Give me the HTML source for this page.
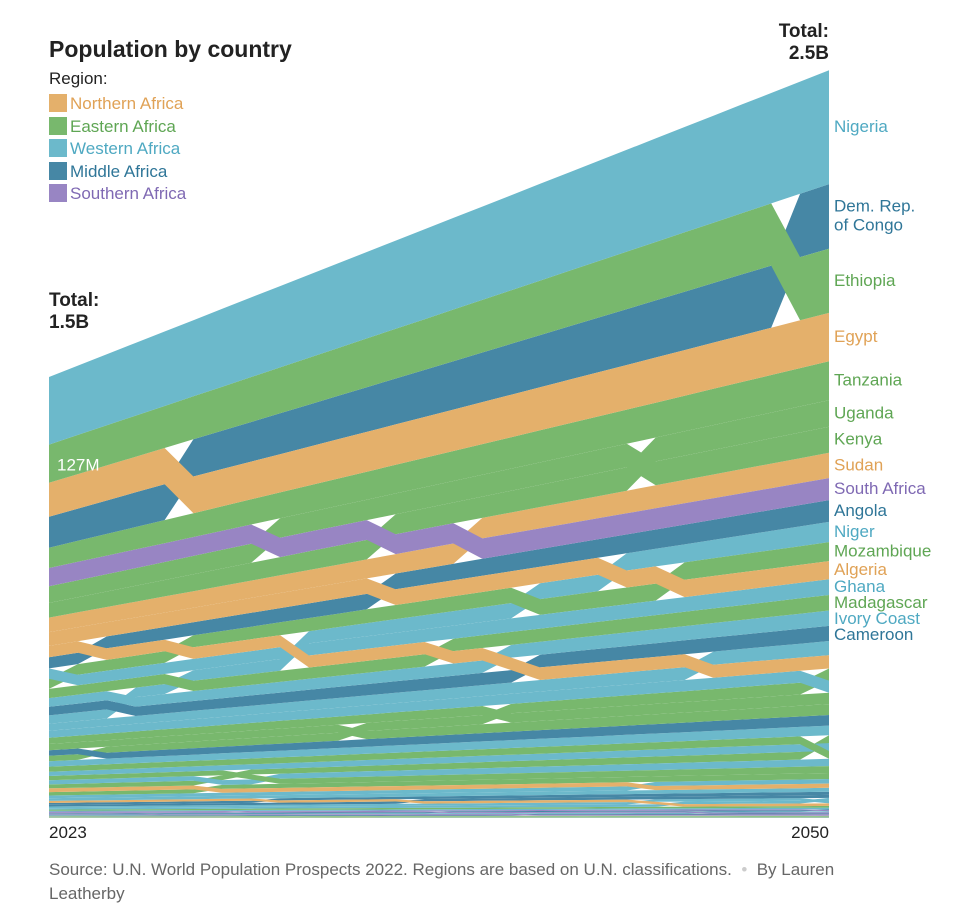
<!DOCTYPE html>
<html><head><meta charset="utf-8">
<style>
body{margin:0;background:#fff;font-family:"Liberation Sans",sans-serif;}
#wrap{position:relative;width:968px;height:912px;overflow:hidden;}
.t{position:absolute;white-space:nowrap;}
</style></head>
<body>
<div id="wrap">
<svg id="chart" width="968" height="912" style="position:absolute;left:0;top:0"></svg>
<div class="t" style="left:49px;top:36px;font-size:23px;font-weight:bold;color:#222">Population by country</div>
<div class="t" style="left:49px;top:69px;font-size:17px;color:#222">Region:</div>
<div>
<div class="t" style="left:49px;top:94px;font-size:17px;color:#e0a256"><span style="display:inline-block;width:18px;height:18px;background:#e4b06b;vertical-align:-3px;margin-right:3px"></span>Northern Africa</div>
<div class="t" style="left:49px;top:117px;font-size:17px;color:#5fa654"><span style="display:inline-block;width:18px;height:18px;background:#78b86d;vertical-align:-3px;margin-right:3px"></span>Eastern Africa</div>
<div class="t" style="left:49px;top:139px;font-size:17px;color:#4fa9c2"><span style="display:inline-block;width:18px;height:18px;background:#6cb9cb;vertical-align:-3px;margin-right:3px"></span>Western Africa</div>
<div class="t" style="left:49px;top:162px;font-size:17px;color:#2f7698"><span style="display:inline-block;width:18px;height:18px;background:#4687a5;vertical-align:-3px;margin-right:3px"></span>Middle Africa</div>
<div class="t" style="left:49px;top:184px;font-size:17px;color:#7f69b3"><span style="display:inline-block;width:18px;height:18px;background:#9885c3;vertical-align:-3px;margin-right:3px"></span>Southern Africa</div>
</div>
<div class="t" style="left:49px;top:290px;font-size:19px;font-weight:bold;color:#222;line-height:22px">Total:<br>1.5B</div>
<div class="t" style="right:139px;top:21px;font-size:19px;font-weight:bold;color:#222;line-height:22px;text-align:right">Total:<br>2.5B</div>
<div class="t" style="left:49px;top:823px;font-size:17px;color:#222">2023</div>
<div class="t" style="right:139px;top:823px;font-size:17px;color:#222">2050</div>
<div class="t" style="left:49px;top:858px;font-size:17px;color:#666;line-height:24px;white-space:normal;width:858px">Source: U.N. World Population Prospects 2022. Regions are based on U.N. classifications. &nbsp;<span style="color:#ccc">•</span>&nbsp; By Lauren Leatherby</div>
</div>
<script>
const countries=["Nigeria","Ethiopia","Egypt","Dem. Rep. of Congo","Tanzania","South Africa","Kenya","Uganda","Sudan","Algeria","Morocco","Angola","Ghana","Mozambique","Madagascar","Ivory Coast","Cameroon","Niger","Burkina Faso","Mali","Malawi","Zambia","Chad","Somalia","Senegal","Zimbabwe","Guinea","Rwanda","Benin","Burundi","Tunisia","South Sudan","Togo","Sierra Leone","Libya","Congo","CAR","Liberia","Mauritania","Eritrea","Gambia","Botswana","Namibia","Gabon","Lesotho","Guinea-Bissau","Eq. Guinea","Mauritius","Eswatini","Djibouti","Reunion","Comoros","Cabo Verde","W. Sahara","Mayotte","Sao Tome","Seychelles"];
const regions=["W","E","N","M","E","S","E","E","N","N","N","M","W","E","E","W","M","W","W","W","E","E","M","E","W","E","W","E","W","E","N","E","W","W","N","M","M","W","W","E","W","S","S","M","S","W","M","E","S","E","E","E","W","N","E","M","E"];
const pop2023=[223.8,126.5,112.7,102.3,67.4,60.4,55.1,48.6,48.1,45.6,37.8,36.7,34.1,33.9,30.3,28.9,28.6,27.2,23.3,23.3,20.9,20.6,18.3,18.1,17.8,16.7,14.2,14.1,13.7,13.2,12.5,11.1,9.1,8.8,6.9,6.1,5.7,5.4,4.9,3.7,2.8,2.7,2.6,2.4,2.3,2.2,1.7,1.3,1.2,1.1,0.98,0.85,0.6,0.59,0.33,0.23,0.1];
const pop2050=[377,212.5,160,214,129,73,86,88,84,60,44,72,52,63,51.5,51,50,67,40,47,38,36,35,40,32,26,26,23,24,26,14,20,15,13,8.5,10.5,10,9,9,5.6,4.8,3.4,3.7,3.7,2.8,3.5,3.2,1.2,1.5,1.5,1.1,1.4,0.7,0.8,0.6,0.37,0.13];
const labeled=["Nigeria","Dem. Rep. of Congo","Ethiopia","Egypt","Tanzania","Uganda","Kenya","Sudan","South Africa","Angola","Niger","Mozambique","Algeria","Ghana","Madagascar","Ivory Coast","Cameroon"];

const fill={N:"#e4b06b",E:"#78b86d",W:"#6cb9cb",M:"#4687a5",S:"#9885c3"};
const txt={N:"#e0a256",E:"#5fa654",W:"#4fa9c2",M:"#2f7698",S:"#7f69b3"};
const X0=49,X1=829,BASE=818,K=0.302;
const xScale=y=>X0+(y-2023)/27*(X1-X0);
const yScale=v=>BASE-v*K;
const svg=document.getElementById('chart');
const NS="http://www.w3.org/2000/svg";
const n=countries.length;
const tops=countries.map(()=>[]),bots=countries.map(()=>[]);
for(let yr=2023;yr<=2050;yr++){
  const t=(yr-2023)/27;
  const vals=countries.map((c,i)=>pop2023[i]+(pop2050[i]-pop2023[i])*t);
  const order=vals.map((v,i)=>i).sort((a,b)=>vals[a]-vals[b]);
  let cum=0;
  order.forEach(i=>{bots[i].push([xScale(yr),yScale(cum)]);cum+=vals[i];tops[i].push([xScale(yr),yScale(cum)]);});
}
for(let i=n-1;i>=0;i--){
  const p=document.createElementNS(NS,'path');
  let d="M"+tops[i].map(q=>q[0].toFixed(1)+","+q[1].toFixed(1)).join("L");
  d+="L"+bots[i].slice().reverse().map(q=>q[0].toFixed(1)+","+q[1].toFixed(1)).join("L")+"Z";
  p.setAttribute('d',d);p.setAttribute('fill',fill[regions[i]]);
  
  
  svg.appendChild(p);
}
const items=labeled.map(c=>{const i=countries.indexOf(c);const m=(tops[i][27][1]+bots[i][27][1])/2;return {c,i,m};}).sort((a,b)=>a.m-b.m);
let last=-1e9;
items.forEach(it=>{
  const two=it.c==="Dem. Rep. of Congo";
  let y=it.m; if(two) y-=10;
  if(y<last+16) y=last+16;
  last=two?y+19:y;
  const tx=document.createElementNS(NS,'text');
  tx.setAttribute('x',834);tx.setAttribute('y',y+5);
  tx.setAttribute('font-size','17');tx.setAttribute('font-family','Liberation Sans, sans-serif');
  tx.setAttribute('fill',txt[regions[it.i]]);
  if(two){tx.innerHTML='<tspan x="834">Dem. Rep.</tspan><tspan x="834" dy="19">of Congo</tspan>';}
  else tx.textContent=it.c;
  
  
  svg.appendChild(tx);
});
const eth=countries.indexOf("Ethiopia");
const lab=document.createElementNS(NS,'text');
lab.setAttribute('x',57);lab.setAttribute('y',(tops[eth][0][1]+bots[eth][0][1])/2+7);
lab.setAttribute('font-size','17');lab.setAttribute('fill','#fff');lab.setAttribute('font-family','Liberation Sans, sans-serif');
lab.textContent=Math.round(pop2023[eth])+"M";


svg.appendChild(lab);
</script>
</body></html>
